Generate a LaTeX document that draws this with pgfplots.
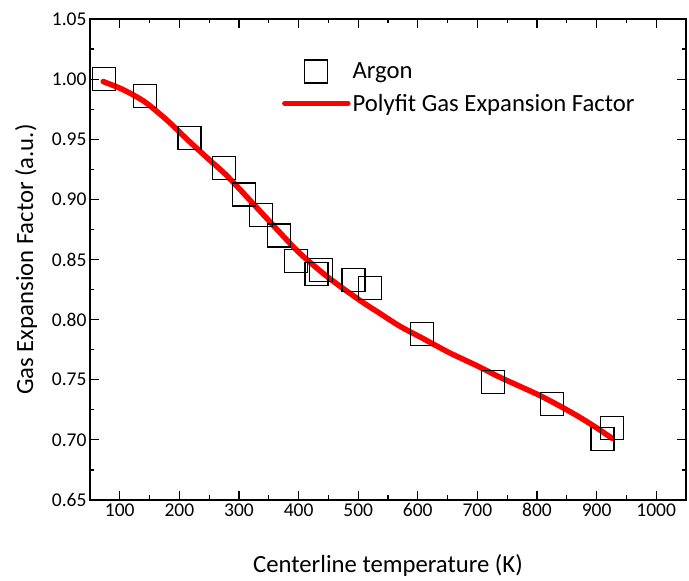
\documentclass[border=0pt]{standalone}
\usepackage{pgfplots}
\pgfplotsset{compat=1.18}
\usepackage{fontspec}
\setmainfont{Carlito}

% Legend images: a centred square, and a line of the same width
\pgfplotsset{
  square legend/.style={legend image code/.code={%
    \path (0pt,0pt) (63pt,0pt);
    \draw[##1] plot coordinates {(31.5pt,0pt)};}},
  line legend wide/.style={legend image code/.code={%
    \draw[##1, line cap=round] (0pt,0pt) -- (63pt,0pt);}},
}

% Measured gas expansion factor for argon
\pgfplotstableread{
T     gef
74    1.000
142   0.986
217   0.951
275   0.926
308   0.904
337   0.887
367   0.870
396   0.849
430   0.838
437   0.841
492   0.833
520   0.826
607   0.788
726   0.748
825   0.730
910   0.701
926   0.710
}\argondata

% Polynomial fit through the measurements
\pgfplotstableread{
T     fit
72    0.9980
100   0.9925
122   0.9870
145   0.9800
180   0.9655
217   0.9480
250   0.9330
279   0.9200
318   0.8995
360   0.8770
402   0.8552
450   0.8350
502   0.8163
536   0.8053
570   0.7945
608   0.7845
653   0.7725
700   0.7615
736   0.7525
770   0.7448
803   0.7373
837   0.7285
870   0.7193
900   0.7100
926   0.7013
}\fitdata

\begin{document}
\begin{tikzpicture}
\begin{axis}[
  name=ax,
  scale only axis,
  width=596pt, height=481pt,
  xmin=50, xmax=1050,
  ymin=0.65, ymax=1.05,
  xtick={100,200,...,1000},
  ytick={0.65,0.70,...,1.05},
  minor x tick num=1,
  minor y tick num=1,
  tick align=inside,
  major tick length=9pt,
  minor tick length=4.5pt,
  tick style={black, line width=1.2pt},
  axis line style={line width=1.3pt},
  font=\fontsize{19.5}{23}\selectfont,
  /pgf/number format/assume math mode=true,
  yticklabel style={/pgf/number format/.cd, fixed, fixed zerofill, precision=2},
  xticklabel style={/pgf/number format/.cd, fixed, precision=0, set thousands separator={}},
  xlabel={Centerline temperature (K)},
  ylabel={Gas Expansion Factor (a.u.)},
  xlabel style={at={(axis description cs:0.5,-0.137)}, anchor=center,
    font=\fontsize{24.7}{29}\selectfont},
  ylabel style={at={(axis description cs:-0.1074,0.5)}, anchor=center,
    font=\fontsize{24.7}{29}\selectfont},
  legend style={draw=none, fill=none, at={(rel axis cs:0.322,0.915)}, anchor=north west,
    inner sep=0pt, row sep=9pt, cells={anchor=west},
    font=\fontsize{24.7}{29}\selectfont},
  legend cell align=left,
]
\addplot[only marks, mark=square, mark size=11.5pt, line width=1.2pt, black, square legend]
  table[x=T, y=gef] {\argondata};
\addlegendentry{Argon}
\addplot[red, line width=5.5pt, line cap=round, smooth, no marks, line legend wide]
  table[x=T, y=fit] {\fitdata};
\addlegendentry{Polyfit Gas Expansion Factor}
\end{axis}
% page extent around the axis box
\path (ax.south west) ++(-90pt,-81pt);
\path (ax.north east) ++(3pt,19pt);
\end{tikzpicture}
\end{document}
